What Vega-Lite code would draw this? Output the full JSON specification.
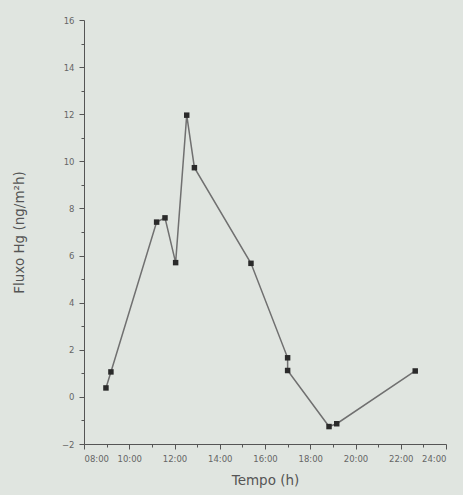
{
  "$schema": "https://vega.github.io/schema/vega-lite/v6.json",
  "width": 362,
  "height": 424,
  "autosize": "none",
  "padding": {"left": 84, "top": 20, "right": 17, "bottom": 51},
  "background": "#e0e5e0",
  "config": {
    "view": {"stroke": null},
    "axis": {"grid": false, "domainColor": "#555", "tickColor": "#555", "labelColor": "#666", "titleColor": "#555", "labelFont": "DejaVu Sans", "titleFont": "DejaVu Sans", "labelFontSize": 8.5, "titleFontWeight": "normal"}
  },
  "data": {
    "values": [
      {"i": 1, "t": 8.97, "f": 0.38},
      {"i": 2, "t": 9.19, "f": 1.06},
      {"i": 3, "t": 11.21, "f": 7.42},
      {"i": 4, "t": 11.58, "f": 7.6},
      {"i": 5, "t": 12.05, "f": 5.7},
      {"i": 6, "t": 12.54, "f": 11.96},
      {"i": 7, "t": 12.88, "f": 9.73},
      {"i": 8, "t": 15.38, "f": 5.67},
      {"i": 9, "t": 17.0, "f": 1.66},
      {"i": 10, "t": 17.0, "f": 1.12},
      {"i": 11, "t": 18.83, "f": -1.26},
      {"i": 12, "t": 19.17, "f": -1.14},
      {"i": 13, "t": 22.64, "f": 1.1}
    ]
  },
  "layer": [
    {
      "mark": {"type": "line", "color": "#707070", "strokeWidth": 1.5},
      "encoding": {
        "x": {"field": "t", "type": "quantitative", "scale": {"domain": [8, 24], "nice": false},
          "axis": {"values": [9, 11, 13, 15, 17, 19, 21, 23], "labels": false, "title": null, "tickSize": 3, "domain": false, "orient": "bottom"}},
        "y": {"field": "f", "type": "quantitative", "scale": {"domain": [-2, 16], "nice": false, "zero": false},
          "axis": {"values": [-1, 1, 3, 5, 7, 9, 11, 13, 15], "labels": false, "title": null, "tickSize": 3, "domain": false, "orient": "left"}},
        "order": {"field": "i"}
      }
    },
    {
      "mark": {"type": "square", "color": "#2a2a2a", "size": 30, "opacity": 1},
      "encoding": {
        "x": {"field": "t", "type": "quantitative", "scale": {"domain": [8, 24], "nice": false},
          "axis": {"values": [8, 10, 12, 14, 16, 18, 20, 22, 24], "title": "Tempo (h)", "titleFontSize": 13.5, "tickSize": 5, "labelPadding": 5, "titlePadding": 11,
            "labelExpr": "(datum.value < 10 ? '0' : '') + datum.value + ':00'", "orient": "bottom"}},
        "y": {"field": "f", "type": "quantitative", "scale": {"domain": [-2, 16], "nice": false, "zero": false},
          "axis": {"values": [-2, 0, 2, 4, 6, 8, 10, 12, 14, 16], "title": "Fluxo Hg (ng/m²h)", "titleFontSize": 13.5, "tickSize": 5, "labelPadding": 5, "titlePadding": 35, "orient": "left"}}
      }
    }
  ],
  "resolve": {"axis": {"x": "independent", "y": "independent"}}
}
